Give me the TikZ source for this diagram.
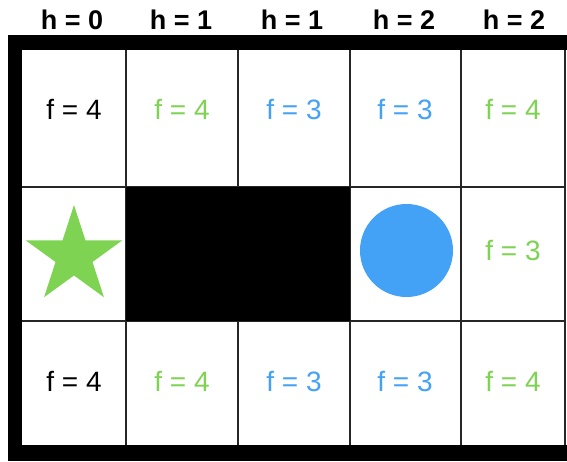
\documentclass[tikz,border=0pt]{standalone}
\usepackage{fontspec}
\setmainfont{Liberation Sans}
\usetikzlibrary{shapes.geometric}
\definecolor{cgreen}{RGB}{126,211,82}
\definecolor{cblue}{RGB}{68,162,246}
\begin{document}
\begin{tikzpicture}[x=1pt,y=-1pt,
  hlab/.style={font=\fontsize{27}{30}\selectfont\bfseries, anchor=base, inner sep=0pt},
  flab/.style={font=\fontsize{28}{30}\selectfont, anchor=base, inner sep=0pt},
  gridline/.style={line width=2.4pt, draw=black!85}]
\useasboundingbox (0,0) rectangle (567,461);
\fill[white] (0,0) rectangle (567,461);
% outer walls
\fill[black] (8,35) rectangle (567,50);
\fill[black] (8,35) rectangle (22,461);
\fill[black] (8,445) rectangle (567,461);
% grid
\foreach \x in {126,238,350,461,565} \draw[gridline] (\x,50) -- (\x,445);
\foreach \y in {187,321} \draw[gridline] (22,\y) -- (565,\y);
% obstacle
\fill[black] (126,187) rectangle (350,321);
% header labels
\node[hlab] (h1) at (72,29) {h = 0};
\node[hlab] (h2) at (181,29) {h = 1};
\node[hlab] (h3) at (292,29) {h = 1};
\node[hlab] (h4) at (404,29) {h = 2};
\node[hlab] (h5) at (514,29) {h = 2};
% row 1
\node[flab] (a1) at (74,119) {f = 4};
\node[flab, text=cgreen] (a2) at (182,119) {f = 4};
\node[flab, text=cblue] (a3) at (294,119) {f = 3};
\node[flab, text=cblue] (a4) at (405,119) {f = 3};
\node[flab, text=cgreen] (a5) at (513,119) {f = 4};
% row 2
\node[star, star points=5, star point ratio=2.618, minimum size=101.8pt, inner sep=0pt, fill=cgreen] (goal) at (74,256) {};
\node[circle, fill=cblue, minimum size=93pt, inner sep=0pt] (agent) at (406.5,250.5) {};
\node[flab, text=cgreen] (b5) at (513,260) {f = 3};
% row 3
\node[flab] (c1) at (74,391) {f = 4};
\node[flab, text=cgreen] (c2) at (182,391) {f = 4};
\node[flab, text=cblue] (c3) at (294,391) {f = 3};
\node[flab, text=cblue] (c4) at (405,391) {f = 3};
\node[flab, text=cgreen] (c5) at (513,391) {f = 4};
\end{tikzpicture}
\end{document}
